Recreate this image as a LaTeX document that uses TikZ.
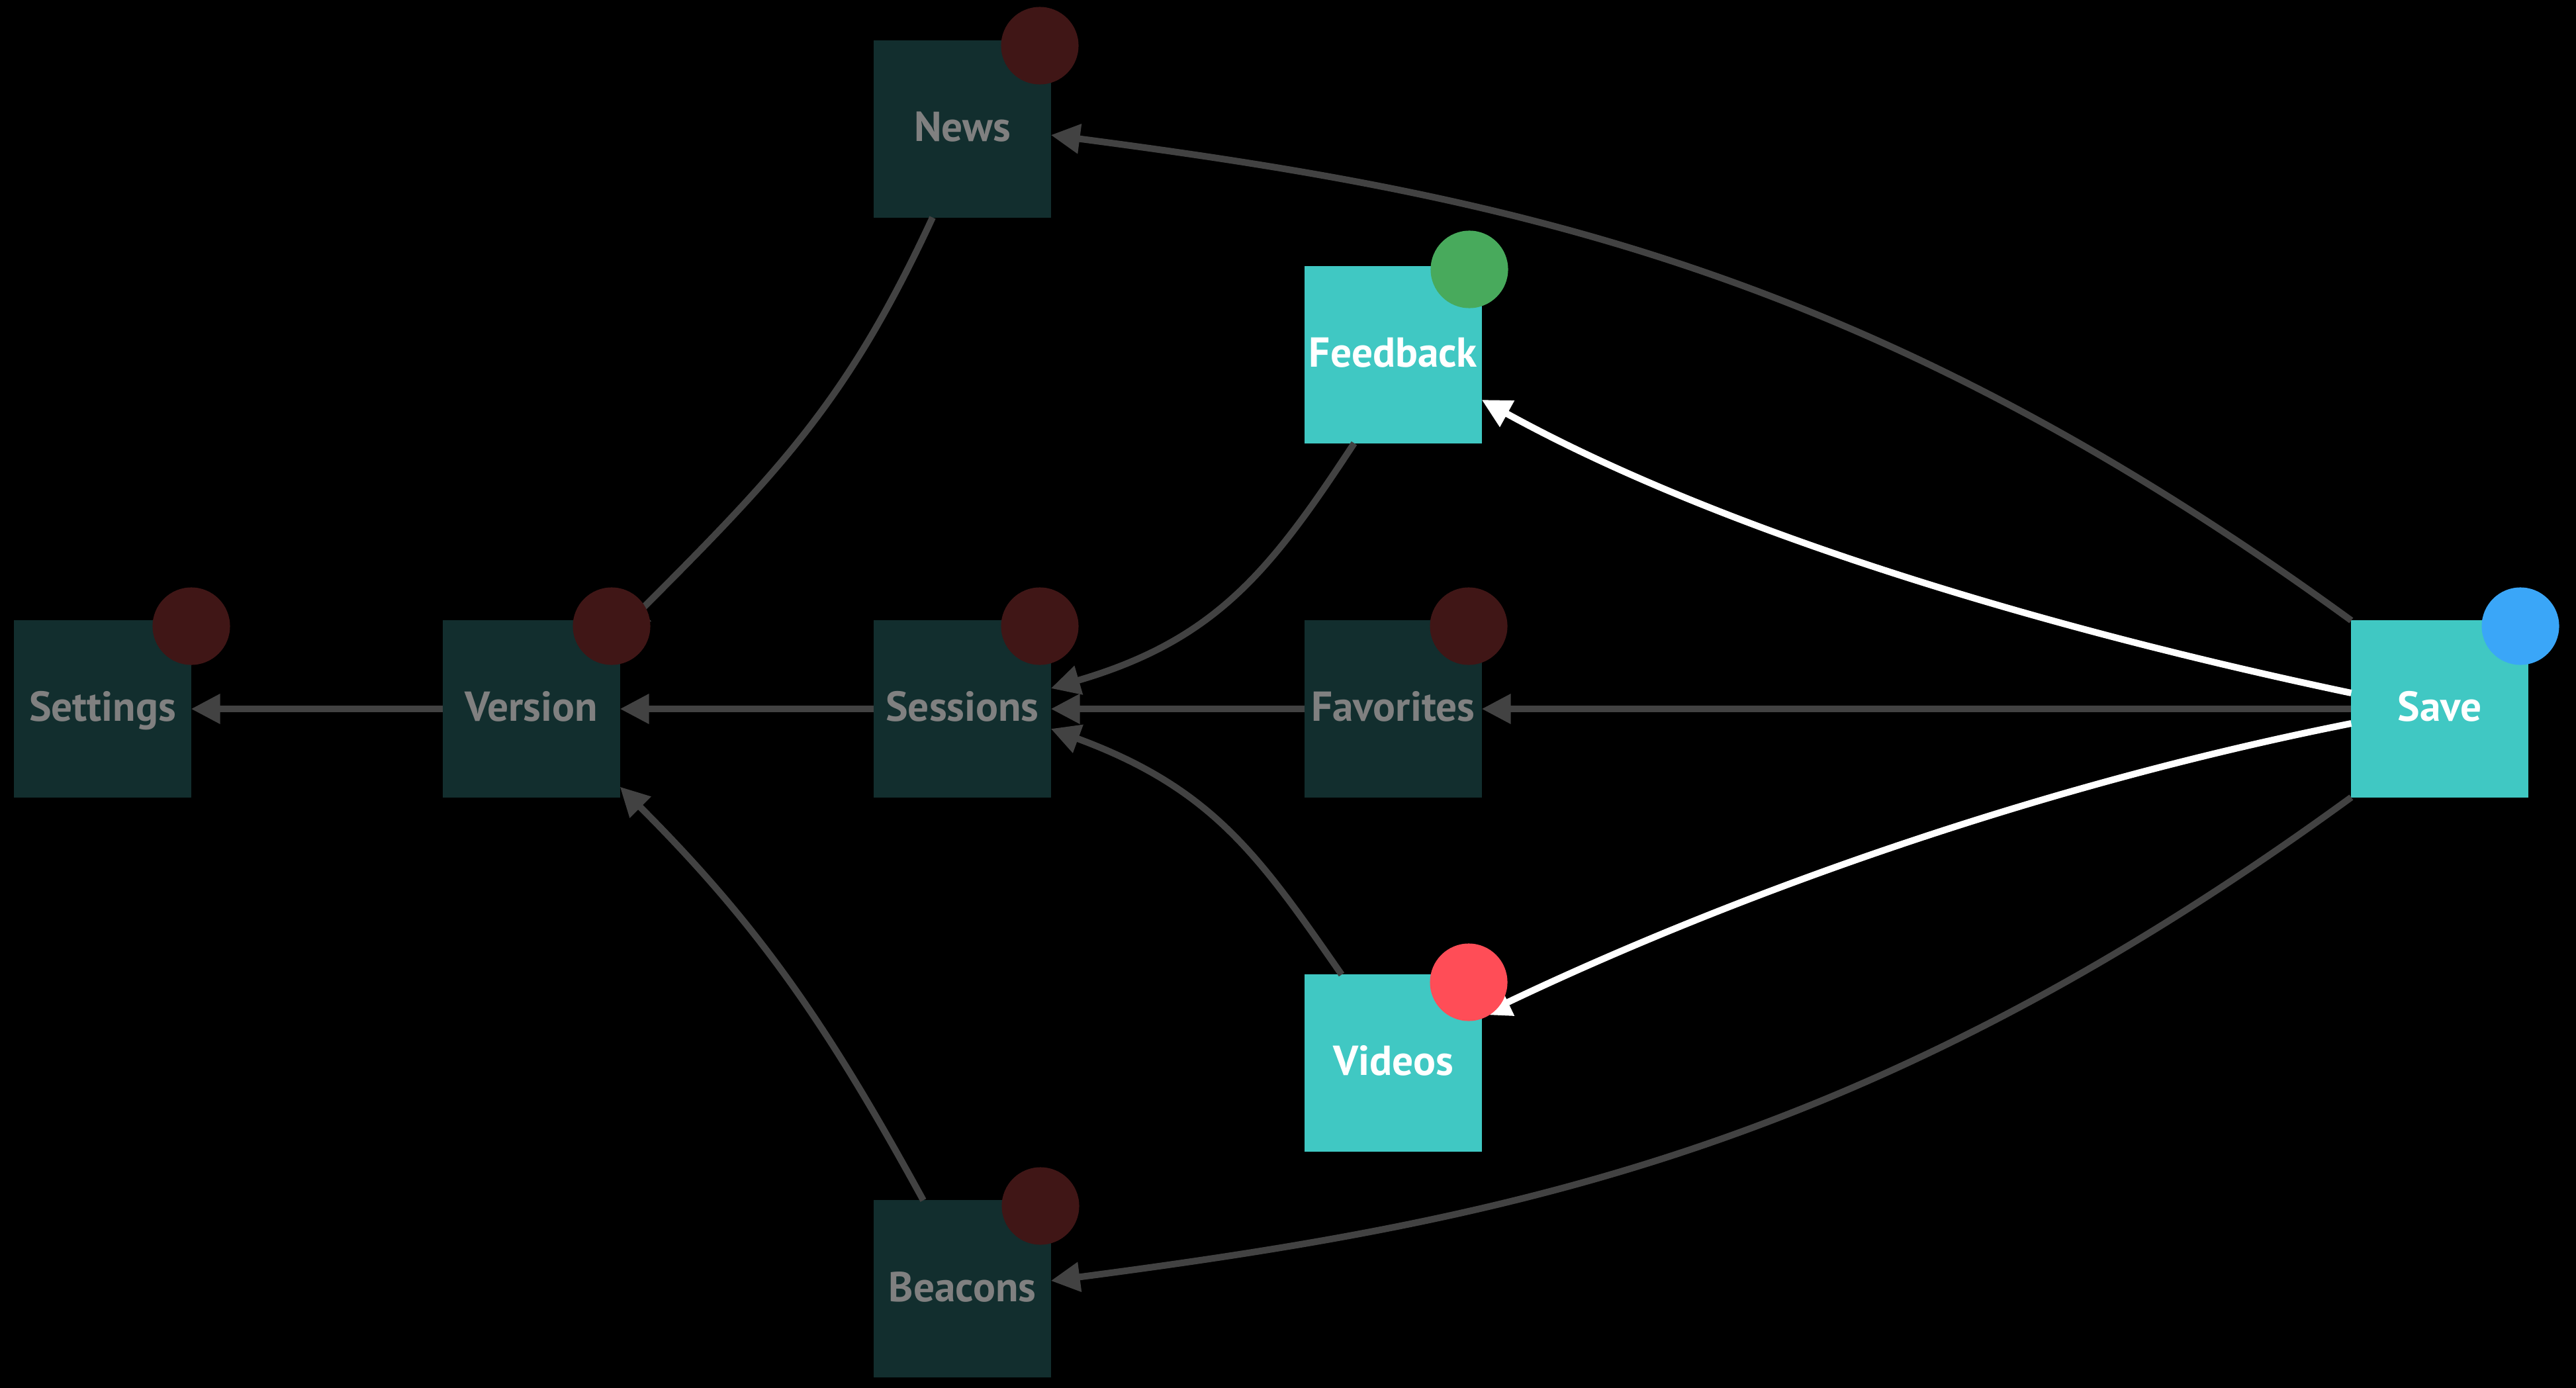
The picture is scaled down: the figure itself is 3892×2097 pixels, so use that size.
\documentclass[tikz,border=0pt]{standalone}
\usepackage{fontspec}
\newfontfamily\lblfont{PT Sans}
\usetikzlibrary{arrows.meta,calc}
\definecolor{darkbox}{RGB}{18,46,46}
\definecolor{darktext}{RGB}{128,128,128}
\definecolor{darkdot}{RGB}{64,22,22}
\definecolor{tealbox}{RGB}{64,200,195}
\definecolor{greendot}{RGB}{72,170,92}
\definecolor{bluedot}{RGB}{58,166,248}
\definecolor{reddot}{RGB}{255,77,87}
\definecolor{edgegray}{RGB}{66,66,66}
\tikzset{
  box/.style={rectangle, minimum width=2.67cm, minimum height=2.67cm, inner sep=0pt, outer sep=0pt,
    font=\lblfont\bfseries\fontsize{18}{20}\selectfont, text height=10.8pt, text depth=0pt},
  dimbox/.style={box, fill=darkbox, text=darktext},
  litbox/.style={box, fill=tealbox, text=white},
  dot/.style={circle, minimum size=1.17cm, inner sep=0pt, outer sep=0pt},
  gedge/.style={draw=edgegray, line width=0.1cm, -{Triangle[length=0.44cm,width=0.43cm]}},
  wedge/.style={draw=white, line width=0.1cm, -{Triangle[length=0.44cm,width=0.43cm]}}
}
\begin{document}
\begin{tikzpicture}[x=0.01cm, y=-0.01cm]
\useasboundingbox (0,0) rectangle (3892,2097);
\fill[black] (0,0) rectangle (3892,2097);
% boxes
\node[dimbox] (settings) at (155,1071) {Settings};
\node[dimbox] (version) at (803,1071) {Version};
\node[dimbox] (sessions) at (1454,1071) {Sessions};
\node[dimbox] (favorites) at (2105,1071) {Favorites};
\node[litbox] (save) at (3686,1071) {Save};
\node[dimbox] (news) at (1454,195) {News};
\node[litbox] (feedback) at (2105,536) {Feedback};
\node[litbox] (videos) at (2105,1606) {Videos};
\node[dimbox] (beacons) at (1454,1947) {Beacons};
% straight edges
\draw[gedge] (version.west) -- (settings.east);
\draw[gedge] (sessions.west) -- (version.east);
\draw[gedge] (favorites.west) -- (sessions.east);
\draw[gedge] (save.west) -- (favorites.east);
% curved edges
\draw[gedge] (save.north west) .. controls +(-729,-531) and +(693,91) .. ($(news.east)+(0,9)$);
\draw[gedge] (save.south west) .. controls +(-729,531) and +(693,-91) .. ($(beacons.east)+(0,-12)$);
\draw[wedge] ($(save.west)+(0,-24)$) .. controls +(-489,-103) and +(350,193) .. ($(feedback.east)+(0,68)$);
\draw[wedge] ($(save.west)+(0,22)$) .. controls +(-490,97) and +(361,-172) .. ($(videos.east)+(0,-73)$);
\draw[gedge] ($(news.south)+(-45,0)$) .. controls +(-126,272) and +(247,-247) .. ($(version.north east)+(0,16)$);
\draw[gedge] ($(beacons.north)+(-59,0)$) .. controls +(-144,-263) and +(212,212) .. ($(version.south east)+(0,-16)$);
\draw[gedge] ($(feedback.south)+(-59,0)$) .. controls +(-126,192) and +(250,-73) .. ($(sessions.east)+(0,-31)$);
\draw[gedge] ($(videos.north)+(-78,0)$) .. controls +(-125,-180) and +(244,90) .. ($(sessions.east)+(0,30)$);
% status dots
\node[dot, fill=darkdot] (settingsdot) at (289,946) {};
\node[dot, fill=darkdot] (versiondot) at (924,946) {};
\node[dot, fill=darkdot] (sessionsdot) at (1571,946) {};
\node[dot, fill=darkdot] (favoritesdot) at (2219,946) {};
\node[dot, fill=bluedot] (savedot) at (3808,946) {};
\node[dot, fill=darkdot] (newsdot) at (1571,69) {};
\node[dot, fill=greendot] (feedbackdot) at (2220,407) {};
\node[dot, fill=reddot] (videosdot) at (2219,1484) {};
\node[dot, fill=darkdot] (beaconsdot) at (1572,1822) {};
\end{tikzpicture}
\end{document}
